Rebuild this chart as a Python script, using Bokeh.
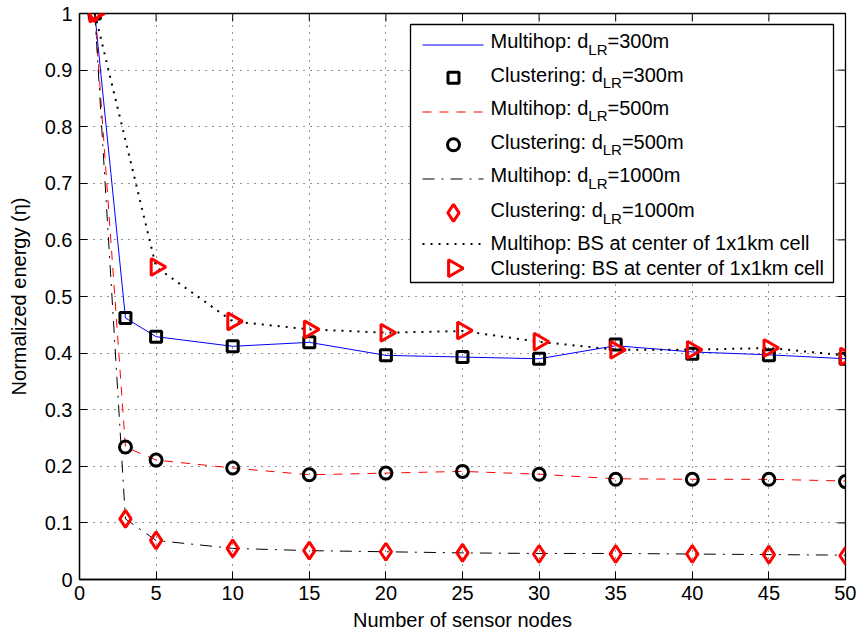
import math
from bokeh.plotting import figure
from bokeh.models import Range1d, FixedTicker
from bokeh.core.properties import value
from bokeh.embed import file_html
from bokeh.resources import INLINE

# ---------------- data ----------------
nodes = [1, 3, 5, 10, 15, 20, 25, 30, 35, 40, 45, 50]
nodes_bs = [1, 5, 10, 15, 20, 25, 30, 35, 40, 45, 50]

multihop_300 = [1.0, 0.462, 0.429, 0.412, 0.419, 0.396, 0.393, 0.390, 0.413, 0.402, 0.397, 0.390]
clustering_300 = [1.0, 0.462, 0.429, 0.412, 0.419, 0.396, 0.393, 0.390, 0.415, 0.399, 0.396, 0.390]
multihop_500 = [1.0, 0.234, 0.211, 0.197, 0.185, 0.188, 0.191, 0.186, 0.178, 0.177, 0.177, 0.174]
clustering_500 = [1.0, 0.234, 0.211, 0.197, 0.185, 0.188, 0.191, 0.186, 0.177, 0.177, 0.177, 0.173]
multihop_1000 = [1.0, 0.107, 0.069, 0.055, 0.051, 0.049, 0.047, 0.046, 0.046, 0.045, 0.044, 0.043]
clustering_1000 = [1.0, 0.107, 0.069, 0.055, 0.051, 0.049, 0.047, 0.045, 0.045, 0.045, 0.044, 0.042]
multihop_bs = [1.0, 0.552, 0.456, 0.442, 0.436, 0.439, 0.420, 0.406, 0.406, 0.409, 0.396]
clustering_bs = [1.0, 0.552, 0.456, 0.442, 0.436, 0.440, 0.420, 0.406, 0.406, 0.409, 0.394]

x_ticks = [0, 5, 10, 15, 20, 25, 30, 35, 40, 45, 50]
y_ticks = [0, 0.1, 0.2, 0.3, 0.4, 0.5, 0.6, 0.7, 0.8, 0.9, 1]
y_tick_labels = ["0", "0.1", "0.2", "0.3", "0.4", "0.5", "0.6", "0.7", "0.8", "0.9", "1"]

legend_main = ["Multihop: d", "Clustering: d", "Multihop: d", "Clustering: d",
               "Multihop: d", "Clustering: d",
               "Multihop: BS at center of 1x1km cell",
               "Clustering: BS at center of 1x1km cell"]
legend_sub = ["LR", "LR", "LR", "LR", "LR", "LR", "", ""]
legend_tail = ["=300m", "=300m", "=500m", "=500m", "=1000m", "=1000m", "", ""]

FONT = "Liberation Sans"
FS = 20
SUB_FS = 15

# approximate Arial/Liberation Sans advance widths (per 1000 em)
AW = {'M': 833, 'u': 556, 'l': 222, 't': 278, 'i': 222, 'h': 556, 'o': 556, 'p': 556,
      ':': 278, ' ': 278, 'd': 556, 'C': 722, 's': 500, 'e': 556, 'r': 333, 'n': 556,
      'g': 556, 'L': 556, 'R': 722}


def text_w(s, fs):
    return sum(AW.get(c, 556) for c in s) * fs / 1000.0


FRAME_W, FRAME_H = 766, 566
TICK = 8

p = figure(frame_width=FRAME_W, frame_height=FRAME_H,
           x_range=Range1d(0, 50), y_range=Range1d(0, 1),
           output_backend="svg", toolbar_location=None,
           min_border_left=79, min_border_right=11, min_border_top=13, min_border_bottom=50,
           background_fill_color="white", border_fill_color="white")
p.extra_x_ranges = {"px": Range1d(0, FRAME_W)}
p.extra_y_ranges = {"px": Range1d(FRAME_H, 0)}

p.outline_line_color = "black"
p.outline_line_width = 1.3

for ax in (p.xaxis[0], p.yaxis[0]):
    ax.major_tick_in = TICK
    ax.major_tick_out = 0
    ax.minor_tick_line_color = None
    ax.axis_line_color = "black"
    ax.axis_line_width = 1.3
    ax.major_tick_line_color = "black"
    ax.major_label_text_font = FONT
    ax.major_label_text_font_size = f"{FS}px"
    ax.major_label_text_color = "black"
    ax.axis_label_text_font = FONT
    ax.axis_label_text_font_size = f"{FS}px"
    ax.axis_label_text_font_style = "normal"
    ax.axis_label_text_color = "black"

p.xaxis.ticker = FixedTicker(ticks=x_ticks)
p.yaxis.ticker = FixedTicker(ticks=y_ticks)
p.yaxis.major_label_overrides = {t: l for t, l in zip(y_ticks, y_tick_labels)}
p.xaxis.axis_label = "Number of sensor nodes"
p.yaxis.axis_label = "Normalized energy (\u03b7)"
p.xaxis.major_label_standoff = 6
p.xaxis.axis_label_standoff = 6
p.yaxis.major_label_standoff = 7
p.yaxis.axis_label_standoff = 12

p.xgrid.ticker = FixedTicker(ticks=x_ticks)
p.ygrid.ticker = FixedTicker(ticks=y_ticks)
p.grid.grid_line_color = "black"
p.grid.grid_line_alpha = 0.85
p.grid.grid_line_dash = "1 6"
p.grid.grid_line_width = 1

# inward ticks on top and right edges (x/y from tick arrays, length in frame pixels)
p.segment(x0=x_ticks, x1=x_ticks, y0=[0] * len(x_ticks), y1=[TICK] * len(x_ticks),
          line_color="black", line_width=1, y_range_name="px")
p.segment(x0=[FRAME_W - TICK] * len(y_ticks), x1=[FRAME_W] * len(y_ticks),
          y0=y_ticks, y1=y_ticks, line_color="black", line_width=1, x_range_name="px")

BLUE = "#0000ff"
RED = "#ff0000"
DASH = "9 8"
DASHDOT = "12 7 2 7"
DOT = "2 6"


def tri(xs, ys, **kw):
    p.scatter(xs, ys, marker="triangle", size=17, angle=-math.pi / 2,
              line_color=RED, line_width=3, fill_color=None, **kw)


# series (drawn in MATLAB order)
p.line(nodes, multihop_300, line_color=BLUE, line_width=1)
p.scatter(nodes, clustering_300, marker="square", size=11, line_color="black",
          line_width=3, fill_color=None)
p.line(nodes, multihop_500, line_color=RED, line_width=1, line_dash=DASH)
p.scatter(nodes, clustering_500, marker="circle", size=12, line_color="black",
          line_width=3, fill_color=None)
p.line(nodes, multihop_1000, line_color="black", line_width=1, line_dash=DASHDOT)
p.scatter(nodes, clustering_1000, marker="diamond", size=17, line_color=RED,
          line_width=3, fill_color=None)
p.line(nodes_bs, multihop_bs, line_color="black", line_width=2, line_dash=DOT)
tri(nodes_bs, clustering_bs)

# ---------------- legend (frame pixel coordinates) ----------------
OX, OY = 79, 13  # frame origin in image pixels
LB_L, LB_T, LB_R, LB_B = 410 - OX, 24 - OY, 833 - OX, 282 - OY
p.quad(left=[LB_L], right=[LB_R], top=[LB_T], bottom=[LB_B],
       fill_color="white", line_color="black", line_width=1.3,
       x_range_name="px", y_range_name="px")

baselines = [47.7, 81.0, 114.3, 148.3, 181.7, 216.7, 249.3, 274.3]
sample_y = [44.5, 77.3, 111.5, 144.3, 178.5, 212.3, 243.5, 267.7]
TEXT_SHIFT = -7
TX = 490 - OX
SL0, SL1, SM = 422 - OX, 483 - OX, 453 - OX

sy = [v - OY for v in sample_y]
p.line([SL0, SL1], [sy[0], sy[0]], line_color=BLUE, line_width=1,
       x_range_name="px", y_range_name="px")
p.scatter([SM], [sy[1]], marker="square", size=11, line_color="black", line_width=3,
          fill_color=None, x_range_name="px", y_range_name="px")
p.line([SL0, SL1], [sy[2], sy[2]], line_color=RED, line_width=1, line_dash=DASH,
       x_range_name="px", y_range_name="px")
p.scatter([SM], [sy[3]], marker="circle", size=12, line_color="black", line_width=3,
          fill_color=None, x_range_name="px", y_range_name="px")
p.line([SL0, SL1], [sy[4], sy[4]], line_color="black", line_width=1, line_dash=DASHDOT,
       x_range_name="px", y_range_name="px")
p.scatter([SM], [sy[5]], marker="diamond", size=17, line_color=RED, line_width=3,
          fill_color=None, x_range_name="px", y_range_name="px")
p.line([SL0, SL1], [sy[6], sy[6]], line_color="black", line_width=2, line_dash=DOT,
       x_range_name="px", y_range_name="px")
tri([SM], [sy[7]], x_range_name="px", y_range_name="px")

main_x, main_y, sub_x, sub_y, sub_t, tail_x, tail_y, tail_t = [], [], [], [], [], [], [], []
for m, s, t, b in zip(legend_main, legend_sub, legend_tail, baselines):
    bb = b - OY + TEXT_SHIFT
    main_x.append(TX)
    main_y.append(bb)
    if s:
        sx = TX + text_w(m, FS)
        sub_x.append(sx)
        sub_y.append(bb + 8)
        sub_t.append(s)
        tail_x.append(sx + text_w(s, SUB_FS))
        tail_y.append(bb)
        tail_t.append(t)

common = dict(text_align="left", text_baseline="alphabetic", text_color="black",
              text_font=value(FONT), x_range_name="px", y_range_name="px")
p.text(main_x, main_y, text=legend_main, text_font_size=f"{FS}px", **common)
p.text(sub_x, sub_y, text=sub_t, text_font_size=f"{SUB_FS}px", **common)
p.text(tail_x, tail_y, text=tail_t, text_font_size=f"{FS}px", **common)

open("out.html", "w").write(file_html(p, INLINE))
